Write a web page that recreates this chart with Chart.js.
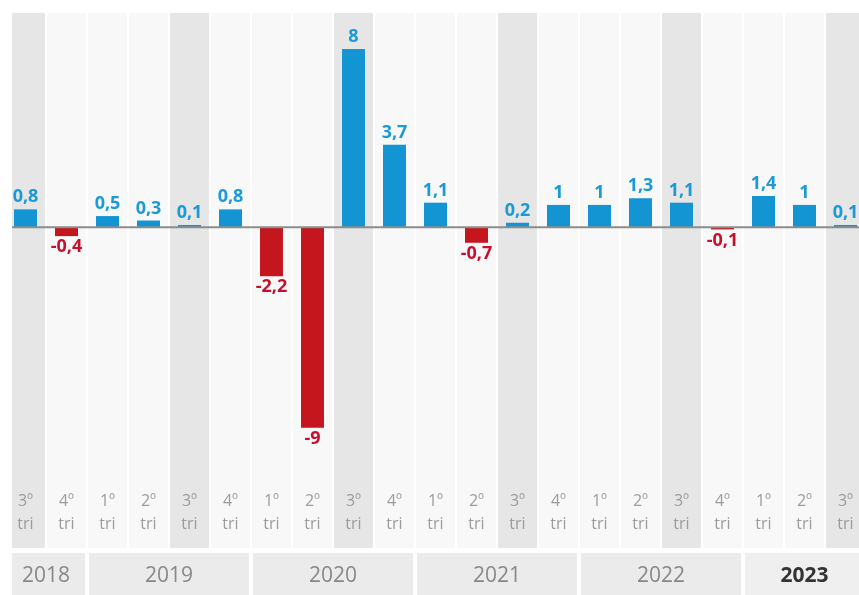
<!DOCTYPE html>
<html>
<head>
<meta charset="utf-8">
<script src="https://cdn.jsdelivr.net/npm/chart.js@4"></script>
<style>
  body { margin: 0; background: #fff; }
  #wrap { position: absolute; left: 12px; top: 0; width: 847px; height: 595px; overflow: hidden; background: #fff; }
  #c { position: absolute; left: -7px; top: 0; }
</style>
</head>
<body>
<div id="wrap"><canvas id="c" width="861" height="595"></canvas></div>
<script>
// PIB trimestral, variacao %
var quarters = ['3º', '4º', '1º', '2º', '3º', '4º', '1º', '2º', '3º', '4º', '1º', '2º', '3º', '4º', '1º', '2º', '3º', '4º', '1º', '2º', '3º'];
var values = [0.8, -0.4, 0.5, 0.3, 0.1, 0.8, -2.2, -9, 8, 3.7, 1.1, -0.7, 0.2, 1, 1, 1.3, 1.1, -0.1, 1.4, 1, 0.1];
var years = ['2018', '2019', '2020', '2021', '2022', '2023'];
var quartersPerYear = [2, 4, 4, 4, 4, 3];

var blue = '#1395d3';
var red = '#c5161d';

var labels = quarters.map(function (q) { return [q, 'tri']; });

// stripes behind columns, zero line, year bands
var backdrop = {
    id: 'backdrop',
    beforeDraw: function (chart) {
        var ctx = chart.ctx;
        var x = chart.scales.x;
        var w = x.width / quarters.length;
        ctx.save();
        quarters.forEach(function (q, i) {
            var cx = x.getPixelForValue(i);
            ctx.fillStyle = q === '3º' ? '#e6e6e6' : '#f8f8f8';
            ctx.fillRect(cx - w / 2 + 1, 13, w - 2, 535);
        });
        // year bands
        var start = 0;
        years.forEach(function (yr, i) {
            var n = quartersPerYear[i];
            var left = x.getPixelForValue(start) - w / 2 + 2;
            var right = x.getPixelForValue(start + n - 1) + w / 2 - 2;
            ctx.fillStyle = i === years.length - 1 ? '#efefef' : '#ebebeb';
            ctx.fillRect(left, 553, right - left, 42);
            ctx.fillStyle = i === years.length - 1 ? '#333' : '#888';
            ctx.font = (i === years.length - 1 ? 'bold ' : '') + '21px "Open Sans"';
            ctx.textAlign = 'center';
            ctx.textBaseline = 'middle';
            ctx.fillText(yr, (left + right) / 2, 576);
            start += n;
        });
        ctx.restore();
    },
    afterDatasetsDraw: function (chart) {
        var ctx = chart.ctx;
        var y0 = chart.scales.y.getPixelForValue(0);
        ctx.save();
        ctx.strokeStyle = '#8c8c8c';
        ctx.lineWidth = 2;
        ctx.beginPath();
        ctx.moveTo(0, y0);
        ctx.lineTo(chart.width, y0);
        ctx.stroke();
        // value labels
        var meta = chart.getDatasetMeta(0);
        ctx.font = 'bold 18px "Open Sans"';
        ctx.textAlign = 'center';
        meta.data.forEach(function (bar, i) {
            var v = values[i];
            var txt = String(v).replace('.', ',');
            if (v >= 0) {
                ctx.fillStyle = '#1a9ad6';
                ctx.textBaseline = 'bottom';
                ctx.fillText(txt, bar.x, bar.y - 3);
            } else {
                ctx.fillStyle = '#c8102e';
                ctx.textBaseline = 'top';
                ctx.fillText(txt, bar.x, bar.y + 2);
            }
        });
        ctx.restore();
    }
};

new Chart(document.getElementById('c'), {
    type: 'bar',
    data: {
        labels: labels,
        datasets: [{
            data: values,
            backgroundColor: values.map(function (v) { return v < 0 ? red : blue; }),
            barPercentage: 0.56,
            categoryPercentage: 1
        }]
    },
    options: {
        responsive: false,
        animation: false,
        layout: { padding: 0 },
        plugins: { legend: { display: false }, tooltip: { enabled: false } },
        scales: {
            x: {
                grid: { display: false, drawTicks: false },
                border: { display: false },
                ticks: {
                    color: '#9c9c9c',
                    font: { family: 'Open Sans', size: 16, lineHeight: 1.45 },
                    padding: 10,
                    maxRotation: 0,
                    autoSkip: false
                },
                afterFit: function (scale) { scale.height = 115; }
            },
            y: {
                display: false,
                min: -11.35,
                max: 10.2
            }
        }
    },
    plugins: [backdrop]
});
</script>
</body>
</html>
